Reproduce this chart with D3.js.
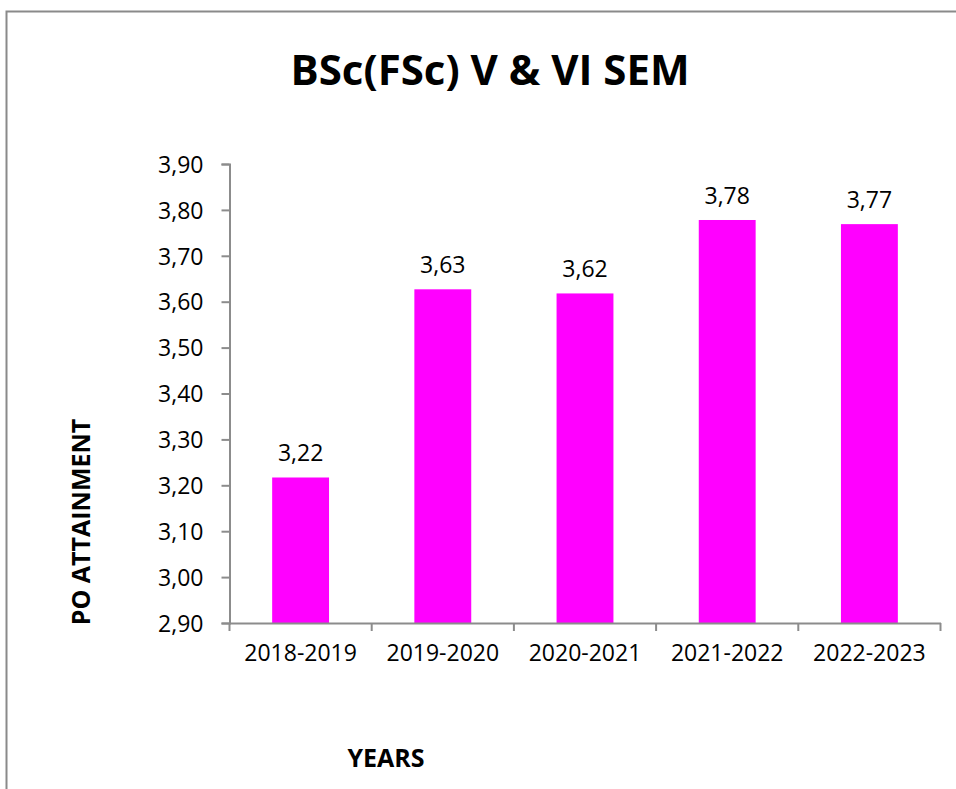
<!DOCTYPE html>
<html>
<head>
<meta charset="utf-8">
<script src="https://cdn.jsdelivr.net/npm/d3@7"></script>
<style>
  body { margin: 0; background: #fff; }
  svg { display: block; }
</style>
</head>
<body>
<div id="chart"></div>
<script>
// data
var years = ["2018-2019", "2019-2020", "2020-2021", "2021-2022", "2022-2023"];
var attainment = [3.217, 3.627, 3.618, 3.778, 3.769];
var yTicks = [2.9, 3.0, 3.1, 3.2, 3.3, 3.4, 3.5, 3.6, 3.7, 3.8, 3.9];

var width = 956;
var height = 789;
var plot = { left: 229.5, right: 940.5, top: 164, bottom: 623 };
var font = "'Open Sans', sans-serif";
var axisGrey = "#8c8c8c";

var svg = d3.select("#chart")
    .append("svg")
    .attr("width", width)
    .attr("height", height);

// outer chart frame (runs off the right and bottom edges)
svg.append("rect")
    .attr("x", 6.5)
    .attr("y", 11.5)
    .attr("width", 1000)
    .attr("height", 900)
    .attr("fill", "none")
    .attr("stroke", "#8a8a8a")
    .attr("stroke-width", 2);

// scales
var xScale = d3.scaleBand()
    .domain(years)
    .range([plot.left, plot.right]);

var yScale = d3.scaleLinear()
    .domain([2.9, 3.9])
    .range([plot.bottom, plot.top]);

var fmt = function(v) {
    return d3.format(".2f")(v).replace(".", ",");
};

// bars
var barW = xScale.bandwidth() * 0.4;
svg.selectAll(".bar")
    .data(years)
    .enter()
    .append("rect")
    .attr("class", "bar")
    .attr("x", function(d) { return xScale(d) + (xScale.bandwidth() - barW) / 2; })
    .attr("y", function(d, i) { return yScale(attainment[i]); })
    .attr("width", barW)
    .attr("height", function(d, i) { return yScale(2.9) - yScale(attainment[i]); })
    .attr("fill", "#ff00ff");

// value labels
svg.selectAll(".val")
    .data(years)
    .enter()
    .append("text")
    .attr("class", "val")
    .attr("x", function(d) { return xScale(d) + xScale.bandwidth() / 2; })
    .attr("y", function(d, i) { return yScale(attainment[i]) - 25; })
    .attr("text-anchor", "middle")
    .attr("dominant-baseline", "central")
    .style("font", "23px " + font)
    .style("fill", "#000")
    .text(function(d, i) { return fmt(attainment[i]); });

// y axis
var yAxis = svg.append("g")
    .attr("transform", "translate(" + plot.left + ",0)")
    .call(d3.axisLeft(yScale).tickValues(yTicks).tickSize(8).tickPadding(18).tickFormat(fmt));

// x axis
var xAxis = svg.append("g")
    .attr("transform", "translate(0," + plot.bottom + ")")
    .call(d3.axisBottom(xScale).tickSize(0).tickPadding(22));

// category boundary ticks
var edges = years.map(function(d) { return xScale(d); }).concat([plot.right]);
xAxis.selectAll(".edge")
    .data(edges)
    .enter()
    .append("line")
    .attr("class", "edge")
    .attr("x1", function(d) { return d; })
    .attr("x2", function(d) { return d; })
    .attr("y1", 0)
    .attr("y2", 8)
    .attr("stroke", axisGrey)
    .attr("stroke-width", 2);

[yAxis, xAxis].forEach(function(g) {
    g.select(".domain").attr("stroke", axisGrey).attr("stroke-width", 2);
    g.selectAll(".tick line").attr("stroke", axisGrey).attr("stroke-width", 2);
    g.selectAll("text")
        .style("font", "23px " + font)
        .style("fill", "#000");
});
yAxis.selectAll("text").attr("dy", "0.36em");

// title
svg.append("text")
    .attr("x", 490)
    .attr("y", 68)
    .attr("text-anchor", "middle")
    .attr("dominant-baseline", "central")
    .style("font", "bold 42px " + font)
    .text("BSc(FSc) V & VI SEM");

// axis titles
svg.append("text")
    .attr("transform", "translate(80,522) rotate(-90)")
    .attr("text-anchor", "middle")
    .attr("dominant-baseline", "central")
    .style("font", "bold 25px " + font)
    .text("PO ATTAINMENT");

svg.append("text")
    .attr("x", 386)
    .attr("y", 757)
    .attr("text-anchor", "middle")
    .attr("dominant-baseline", "central")
    .style("font", "bold 25px " + font)
    .text("YEARS");
</script>
</body>
</html>
